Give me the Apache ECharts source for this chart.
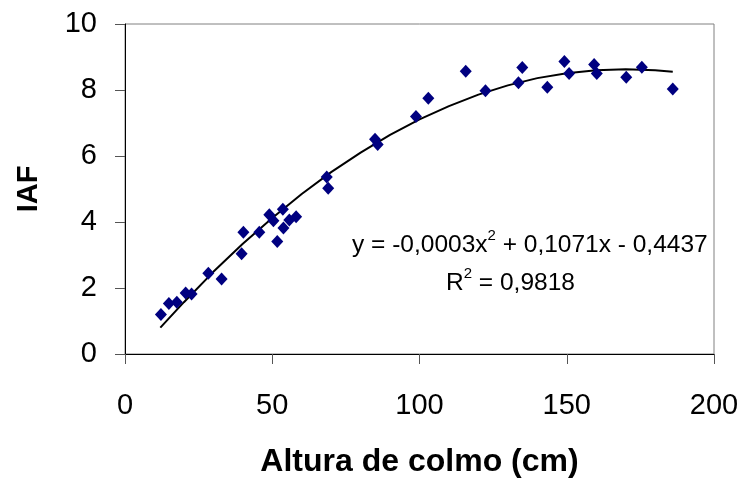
<!DOCTYPE html>
<html>
<head>
<meta charset="utf-8">
<script src="https://cdn.jsdelivr.net/npm/echarts@6/dist/echarts.min.js"></script>
<style>
html,body{margin:0;padding:0;background:#fff;}
#main{width:744px;height:483px;}
</style>
</head>
<body>
<div id="main"></div>
<script>
// Observed points: altura de colmo (cm) and IAF
var alturaCm = [12.2, 14.9, 17.6, 20.6, 22.6, 28.3, 32.8, 39.6, 40.2, 45.6, 49.0, 50.4, 51.7, 53.6, 53.8, 55.8, 58.1, 68.5, 69.0, 84.9, 85.8, 98.8, 103.0, 115.7, 122.4, 133.6, 134.9, 143.4, 149.2, 150.8, 159.3, 160.2, 170.2, 175.5, 186.0];
var iafValues = [1.20, 1.53, 1.57, 1.85, 1.82, 2.45, 2.27, 3.04, 3.69, 3.69, 4.22, 4.04, 3.41, 4.39, 3.82, 4.06, 4.16, 5.36, 5.02, 6.51, 6.35, 7.20, 7.75, 8.57, 7.98, 8.22, 8.68, 8.08, 8.86, 8.50, 8.77, 8.50, 8.39, 8.69, 8.03];
// Trend line
var trendX = [12, 20, 30, 40, 50, 60, 70, 80, 90, 100, 110, 120, 130, 140, 150, 160, 170, 180, 186];
var trendY = [0.80, 1.57, 2.49, 3.34, 4.12, 4.85, 5.51, 6.10, 6.64, 7.11, 7.51, 7.86, 8.14, 8.36, 8.51, 8.60, 8.63, 8.60, 8.55];
var xTicks = [0, 50, 100, 150, 200];
var yTicks = [0, 2, 4, 6, 8, 10];
var xTitle = 'Altura de colmo (cm)';
var yTitle = 'IAF';

var scatterData = alturaCm.map(function (x, i) { return [x, iafValues[i]]; });
var trendData = trendX.map(function (x, i) { return [x, trendY[i]]; });

var chart = echarts.init(document.getElementById('main'), null, {renderer: 'canvas'});
var font = 'Liberation Sans, Arial, sans-serif';
chart.setOption({
  animation: false,
  backgroundColor: '#fff',
  grid: {left: 125, right: 30, top: 24, bottom: 124.5, show: true, borderColor: '#808080', borderWidth: 1, backgroundColor: 'transparent'},
  xAxis: {
    type: 'value', min: xTicks[0], max: xTicks[xTicks.length - 1], interval: 50,
    name: xTitle, nameLocation: 'middle', nameGap: 92,
    nameTextStyle: {fontFamily: font, fontSize: 32, fontWeight: 'bold', color: '#000'},
    axisLine: {show: true, onZero: false, lineStyle: {color: '#000', width: 1}},
    axisTick: {show: true, inside: false, length: 10, lineStyle: {color: '#555'}},
    axisLabel: {fontFamily: font, fontSize: 29, color: '#000', margin: 37},
    splitLine: {show: false}
  },
  yAxis: {
    type: 'value', min: yTicks[0], max: yTicks[yTicks.length - 1], interval: 2,
    name: yTitle, nameLocation: 'middle', nameGap: 82,
    nameTextStyle: {fontFamily: font, fontSize: 29, fontWeight: 'bold', color: '#000'},
    axisLine: {show: true, onZero: false, lineStyle: {color: '#000', width: 1}},
    axisTick: {show: true, inside: false, length: 10, lineStyle: {color: '#555'}},
    axisLabel: {fontFamily: font, fontSize: 29, color: '#000', margin: 28},
    splitLine: {show: false}
  },
  series: [
    {
      type: 'line', data: trendData, showSymbol: false, symbol: 'none',
      lineStyle: {color: '#000', width: 2}, z: 2
    },
    {
      type: 'scatter', data: scatterData, symbol: 'diamond', symbolSize: [12, 13],
      itemStyle: {color: '#000080', opacity: 1}, z: 3
    }
  ],
  graphic: [
    {
      type: 'text', left: 352, top: 228, z: 10,
      style: {
        rich: {
          n: {fontFamily: font, fontSize: 24.5, fill: '#000', lineHeight: 30, verticalAlign: 'bottom'},
          s: {fontFamily: font, fontSize: 15, fill: '#000', lineHeight: 30, verticalAlign: 'top'}
        },
        text: '{n|y = -0,0003x}{s|2}{n| + 0,1071x - 0,4437}'
      }
    },
    {
      type: 'text', left: 446, top: 266, z: 10,
      style: {
        rich: {
          n: {fontFamily: font, fontSize: 24.5, fill: '#000', lineHeight: 30, verticalAlign: 'bottom'},
          s: {fontFamily: font, fontSize: 15, fill: '#000', lineHeight: 30, verticalAlign: 'top'}
        },
        text: '{n|R}{s|2}{n| = 0,9818}'
      }
    }
  ]
});
</script>
</body>
</html>
